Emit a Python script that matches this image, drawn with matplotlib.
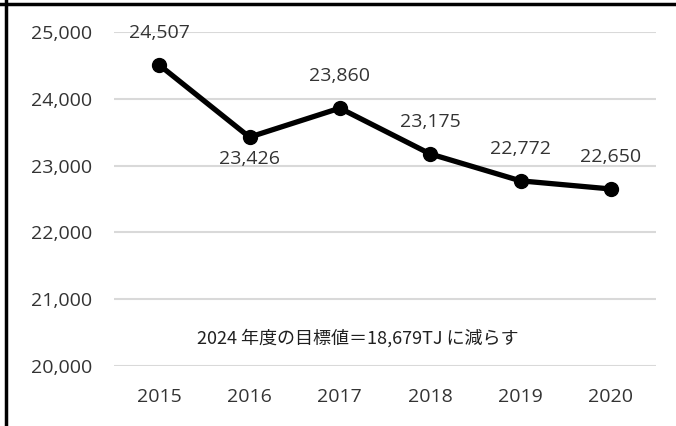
import matplotlib
matplotlib.use("Agg")
import matplotlib.pyplot as plt
from matplotlib.lines import Line2D

years = ["2015", "2016", "2017", "2018", "2019", "2020"]
values = [24507, 23426, 23860, 23175, 22772, 22650]
label_above = [True, False, True, True, True, True]
yticks = [20000, 21000, 22000, 23000, 24000, 25000]
note = "2024 年度の目標値＝18,679TJ に減らす"

plt.rcParams['font.family'] = ['Open Sans', 'DejaVu Sans']

fig = plt.figure(figsize=(6.76, 4.26), dpi=100)
ax = fig.add_axes([114 / 676, 60 / 426, 542 / 676, 334 / 426])

x = list(range(len(years)))
ax.plot(x, values, color='black', lw=3.8, marker='o', markersize=10, zorder=3, clip_on=False)

for i, v in enumerate(values):
    off = 23 if label_above[i] else -16
    ax.annotate(f"{v:,}", (i, v), xytext=(0, off), textcoords='offset points',
                ha='center', va='center', fontsize=14, color='#333333', clip_on=False)

ax.set_xlim(-0.5, len(years) - 0.5)
ax.set_ylim(20000, 25000)
ax.set_xticks(x)
ax.set_xticklabels(years)
ax.set_yticks(yticks)
ax.set_yticklabels([f"{t:,}" for t in yticks])
ax.tick_params(length=0, labelsize=14, labelcolor='#333333')
ax.tick_params(axis='x', pad=16)
ax.tick_params(axis='y', pad=16)
ax.grid(axis='y', color='#d9d9d9', lw=1.5)
ax.set_axisbelow(True)
for s in ax.spines.values():
    s.set_visible(False)

ax.text(2.2, 20410, note, ha='center', va='center', fontsize=13,
        family=['Noto Sans CJK JP', 'DejaVu Sans'], color='#202020')

# border of the original chart frame
fig.add_artist(Line2D([5.5 / 676, 5.5 / 676], [0, 1], color='black', lw=2.5))
fig.add_artist(Line2D([0, 1], [1 - 3.5 / 426, 1 - 3.5 / 426], color='black', lw=2.5))

fig.savefig("out.png", dpi=100)
